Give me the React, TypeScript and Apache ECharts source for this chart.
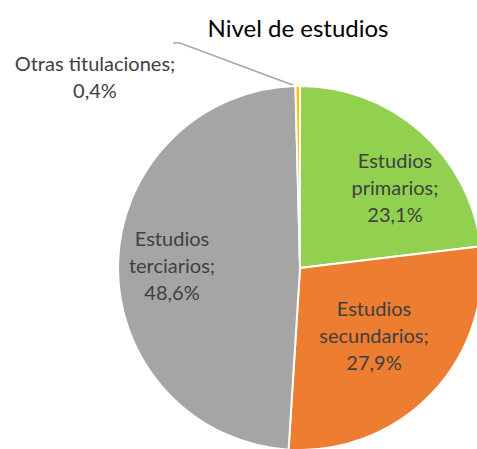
import React, { useEffect, useRef } from "react";
import * as echarts from "echarts";

const categories = ["Estudios primarios", "Estudios secundarios", "Estudios terciarios", "Otras titulaciones"];
const labelLines = [["Estudios", "primarios;", "23,1%"], ["Estudios", "secundarios;", "27,9%"], ["Estudios", "terciarios;", "48,6%"], ["Otras titulaciones;", "0,4%"]];
const values = [23.1, 27.9, 48.6, 0.4];
const colors = ["#92D050", "#ED7D31", "#A5A5A5", "#FFC000"];
const labelPos: [number, number][] = [[395, 187], [374, 335], [172, 265], [95, 76]];

export default function App() {
  const ref = useRef<HTMLDivElement>(null);
  useEffect(() => {
    document.body.style.margin = "0";
    const chart = echarts.init(ref.current!, undefined, { renderer: "svg" });
    chart.setOption({
      animation: false,
      backgroundColor: "#fff",
      title: {
        text: "Nivel de estudios",
        left: 293,
        top: 10,
        textAlign: "center",
        textStyle: { fontFamily: "Lato", fontSize: 24, fontWeight: "normal", color: "#000" },
      },
      series: [
        {
          type: "pie",
          center: [300, 268],
          radius: 182,
          startAngle: 90,
          clockwise: true,
          avoidLabelOverlap: false,
          itemStyle: { borderColor: "#fff", borderWidth: 2 },
          label: {
            show: true,
            position: "inside",
            fontFamily: "Lato",
            fontSize: 20,
            lineHeight: 27,
            color: "#404040",
            align: "center",
            formatter: (p: any) => labelLines[p.dataIndex].join("\n"),
          },
          labelLine: { show: false },
          labelLayout: (p: any) => {
            const [x, y] = labelPos[p.dataIndex];
            const r: any = { x, y, align: "center", verticalAlign: "middle" };
            if (p.dataIndex === 3) r.labelLinePoints = [[298, 87], [180, 43], [173, 43]];
            return r;
          },
          data: categories.map((name, i) => ({
            name,
            value: values[i],
            itemStyle: { color: colors[i] },
            ...(i === 3
              ? {
                  label: { position: "outside", color: "#404040" },
                  labelLine: { show: true, lineStyle: { color: "#A6A6A6", width: 1.5 } },
                }
              : {}),
          })),
        },
      ],
    });
    return () => chart.dispose();
  }, []);
  return <div ref={ref} style={{ width: 477, height: 449 }} />;
}
